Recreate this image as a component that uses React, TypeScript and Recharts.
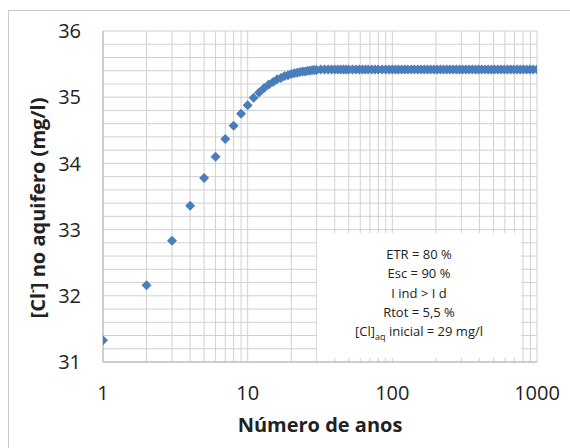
import React from 'react';
import { ScatterChart, Scatter, XAxis, YAxis, CartesianGrid } from 'recharts';

const years = [
  1, 2, 3, 4, 5, 6, 7, 8, 9, 10, 11, 12, 13, 14, 15, 16, 17, 18, 19, 20,
  21, 22, 23, 24, 25, 26, 27, 28, 29, 30, 32, 34, 36, 38, 40, 42, 44, 46, 48, 50,
  53, 56, 59, 62, 65, 68, 72, 76, 80, 85, 90, 95, 100, 105, 110, 116, 122, 128, 135, 142,
  150, 158, 166, 175, 184, 194, 204, 215, 226, 238, 250, 263, 277, 291, 306, 322, 339, 357, 376, 395,
  415, 437, 460, 484, 509, 536, 564, 594, 625, 658, 692, 728, 766, 806, 848, 893, 940, 1000,
];
const chloride = [
  31.33, 32.16, 32.83, 33.36, 33.78, 34.1, 34.37, 34.57, 34.75, 34.88, 34.99, 35.07, 35.14, 35.19, 35.23, 35.27, 35.29, 35.32, 35.33, 35.35,
  35.36, 35.37, 35.38, 35.39, 35.39, 35.4, 35.4, 35.41, 35.41, 35.41, 35.42, 35.42, 35.42, 35.42, 35.42, 35.42, 35.42, 35.42, 35.42, 35.42,
  35.42, 35.42, 35.42, 35.42, 35.42, 35.42, 35.42, 35.42, 35.42, 35.42, 35.42, 35.42, 35.42, 35.42, 35.42, 35.42, 35.42, 35.42, 35.42, 35.42,
  35.42, 35.42, 35.42, 35.42, 35.42, 35.42, 35.42, 35.42, 35.42, 35.42, 35.42, 35.42, 35.42, 35.42, 35.42, 35.42, 35.42, 35.42, 35.42, 35.42,
  35.42, 35.42, 35.42, 35.42, 35.42, 35.42, 35.42, 35.42, 35.42, 35.42, 35.42, 35.42, 35.42, 35.42, 35.42, 35.42, 35.42, 35.42,
];

const xTicks = [
  1, 2, 3, 4, 5, 6, 7, 8, 9,
  10, 20, 30, 40, 50, 60, 70, 80, 90,
  100, 200, 300, 400, 500, 600, 700, 800, 900,
  1000,
];
const xLabelTicks = [1, 10, 100, 1000];
const yTicks = [
  31, 31.2, 31.4, 31.6, 31.8, 32, 32.2, 32.4, 32.6, 32.8, 33, 33.2, 33.4, 33.6, 33.8,
  34, 34.2, 34.4, 34.6, 34.8, 35, 35.2, 35.4, 35.6, 35.8, 36,
];
const yLabelTicks = [31, 32, 33, 34, 35, 36];

const noteLines = ['ETR = 80 %', 'Esc = 90 %', 'I ind > I d', 'Rtot = 5,5 %'];

const data = years.map((y, i) => ({ year: y, cl: chloride[i] }));

const FONT = '"Open Sans", sans-serif';
const TEXT = '#222';

const Diamond = (props: any) => {
  const { cx, cy } = props;
  if (cx == null || cy == null) return null;
  const r = 5;
  return (
    <polygon
      points={`${cx},${cy - r} ${cx + r},${cy} ${cx},${cy + r} ${cx - r},${cy}`}
      fill="#4a7ebb"
    />
  );
};

export default function App() {
  return (
    <div
      style={{
        position: 'absolute',
        left: 0,
        top: 0,
        width: 570,
        height: 448,
        overflow: 'hidden',
        background: '#fff',
        fontFamily: FONT,
      }}
    >
      <div
        style={{
          position: 'absolute',
          left: 8,
          top: 10,
          width: 700,
          height: 600,
          borderLeft: '1px solid #c8c8c8',
          borderTop: '1px solid #c8c8c8',
        }}
      />
      <div style={{ position: 'absolute', left: 0, top: 0 }}>
        <ScatterChart
          width={570}
          height={448}
          margin={{ top: 31, right: 33, bottom: 56, left: 43 }}
        >
          <CartesianGrid stroke="#d0d0d0" strokeWidth={1} />
          <XAxis
            type="number"
            dataKey="year"
            scale="log"
            domain={[1, 1000]}
            ticks={xTicks}
            interval={0}
            allowDataOverflow
            height={30}
            tickSize={0}
            tickMargin={24}
            tickLine={false}
            axisLine={{ stroke: '#b4b4b4' }}
            tick={{ fill: TEXT, fontSize: 20, fontFamily: FONT }}
            tickFormatter={(v: number) => (xLabelTicks.includes(v) ? String(v) : '')}
          />
          <YAxis
            type="number"
            dataKey="cl"
            domain={[31, 36]}
            ticks={yTicks}
            interval={0}
            allowDataOverflow
            width={60}
            tickSize={0}
            tickMargin={22}
            tickLine={false}
            axisLine={{ stroke: '#b4b4b4' }}
            tick={{ fill: TEXT, fontSize: 20, fontFamily: FONT }}
            tickFormatter={(v: number) => (yLabelTicks.includes(v) ? String(v) : '')}
          />
          <Scatter data={data} shape={Diamond} isAnimationActive={false} />
        </ScatterChart>
      </div>
      <div
        style={{
          position: 'absolute',
          left: 317,
          top: 233,
          width: 204,
          height: 125,
          background: '#fff',
        }}
      >
        <div
          style={{
            position: 'absolute',
            left: 0,
            top: 12,
            width: '100%',
            textAlign: 'center',
            fontSize: 13,
            lineHeight: '19.3px',
            color: TEXT,
            whiteSpace: 'nowrap',
          }}
        >
          {noteLines.map((t) => (
            <div key={t}>{t}</div>
          ))}
          <div>
            [Cl]<sub style={{ fontSize: 9, verticalAlign: 'baseline', position: 'relative', top: 4 }}>aq</sub> inicial = 29 mg/l
          </div>
        </div>
      </div>
      <div
        style={{
          position: 'absolute',
          left: 320,
          top: 425,
          transform: 'translate(-50%, -50%)',
          fontSize: 20,
          fontWeight: 700,
          color: TEXT,
          whiteSpace: 'nowrap',
          lineHeight: 1,
        }}
      >
        Número de anos
      </div>
      <div
        style={{
          position: 'absolute',
          left: 38,
          top: 208,
          transform: 'translate(-50%, -50%) rotate(-90deg)',
          fontSize: 20,
          fontWeight: 700,
          color: TEXT,
          whiteSpace: 'nowrap',
          lineHeight: 1,
        }}
      >
        [Cl<sup style={{ fontSize: 12, verticalAlign: 'baseline', position: 'relative', top: -8 }}>-</sup>] no aquifero (mg/l)
      </div>
    </div>
  );
}
